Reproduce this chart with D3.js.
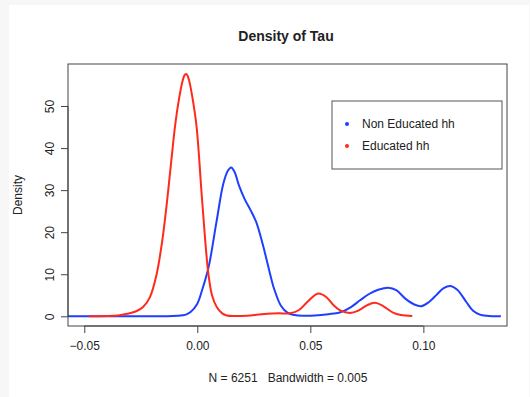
<!DOCTYPE html>
<html>
<head>
    <meta charset="utf-8" />
    <title>Density of Tau</title>
    <style>
    	html, body { margin: 0; padding: 0; background: #f7f7f7; }
    	svg { display: block; }
    	text { font-family: "Liberation Sans", Arial, Helvetica, sans-serif; fill: #222; }
    </style>
</head>
<body>
<script src="https://d3js.org/d3.v7.min.js"></script>
<script>
    // density curves
    var blueX = [-0.06, -0.03, -0.015, -0.009, -0.005, -0.003, 0.000, 0.002, 0.005, 0.0085, 0.0115, 0.0135, 0.015, 0.0165,
                 0.0185, 0.021, 0.0235, 0.026, 0.029, 0.032, 0.034, 0.037, 0.040, 0.043, 0.047, 0.052, 0.058, 0.063, 0.068,
                 0.072, 0.076, 0.080, 0.0845, 0.088, 0.092, 0.096, 0.099, 0.102, 0.106, 0.109, 0.112, 0.115, 0.119, 0.122,
                 0.125, 0.128, 0.131, 0.1343];
    var blueY = [0, 0, 0.02, 0.1, 0.4, 1.0, 3.0, 6.0, 11.7, 22.5, 31.5, 34.6, 35.4, 34.3,
                 31.0, 27.8, 25.3, 22.5, 17.0, 10.5, 6.5, 2.5, 0.8, 0.3, 0.15, 0.2, 0.5, 0.9, 2.2,
                 3.8, 5.3, 6.3, 6.8, 6.2, 4.2, 2.8, 2.4, 3.2, 5.2, 6.7, 7.2, 6.3, 3.4, 1.3,
                 0.4, 0.1, 0.02, 0];

    var redX = [-0.048, -0.04, -0.035, -0.031, -0.027, -0.024, -0.021, -0.018, -0.0155, -0.0135, -0.0115, -0.0099,
                -0.0083, -0.0065, -0.0057, -0.005, -0.0043, -0.0035, -0.002, -0.0003, 0.0019, 0.0035, 0.0049, 0.0065,
                0.0086, 0.011, 0.013, 0.016, 0.022, 0.027, 0.031, 0.036, 0.041, 0.045, 0.049, 0.0535, 0.057, 0.060,
                0.0632, 0.0676, 0.071, 0.075, 0.0786, 0.082, 0.0868, 0.090, 0.0951];
    var redY = [0, 0.05, 0.2, 0.6, 1.2, 2.2, 4.5, 10, 18, 26.8, 37, 45,
                51, 56, 57.3, 57.6, 57.2, 55.8, 51.5, 45, 29.2, 18, 10.1, 5,
                2.2, 0.7, 0.2, 0.05, 0.15, 0.4, 0.6, 0.7, 0.7, 1.5, 3.6, 5.4, 4.6, 2.8,
                1.4, 0.8, 1.3, 2.6, 3.2, 2.5, 0.8, 0.3, 0.05];

    var xTicks = [-0.05, 0, 0.05, 0.10];
    var yTicks = [0, 10, 20, 30, 40, 50];
    var seriesNames = ["Non Educated hh", "Educated hh"];
    var seriesColors = ["#1f3fff", "#ff2a1a"];

    var width = 530;
    var height = 397;
    var box = {"left": 68, "right": 507, "top": 64, "bottom": 326};

    var svg = d3.select("body").append("svg")
                .attr("width", width)
                .attr("height", height);

    svg.append("rect")
       .attr("x", 9)
       .attr("y", 5)
       .attr("width", width - 10)
       .attr("height", height - 5)
       .attr("fill", "#fff");

    var xScaler = d3.scaleLinear()
                    .domain([-0.0572, 0.137])
                    .range([box.left, box.right]);

    var yScaler = d3.scaleLinear()
                    .domain([-2.31, 59.99])
                    .range([box.bottom, box.top]);

    svg.append("clipPath").attr("id", "plotclip")
       .append("rect")
       .attr("x", box.left)
       .attr("y", box.top)
       .attr("width", box.right - box.left)
       .attr("height", box.bottom - box.top);

    var lineGenerator = d3.line()
                          .x(d => xScaler(d[0]))
                          .y(d => yScaler(d[1]))
                          .curve(d3.curveCatmullRom.alpha(0.5));

    var lines = svg.append("g").attr("clip-path", "url(#plotclip)");

    lines.append("path")
         .attr("d", lineGenerator(blueX.map((x, i) => [x, blueY[i]])))
         .style("fill", "none")
         .style("stroke-width", "2px")
         .style("stroke", seriesColors[0]);

    lines.append("path")
         .attr("d", lineGenerator(redX.map((x, i) => [x, redY[i]])))
         .style("fill", "none")
         .style("stroke-width", "2px")
         .style("stroke", seriesColors[1]);

    // plot frame
    svg.append("rect")
       .attr("x", box.left)
       .attr("y", box.top)
       .attr("width", box.right - box.left)
       .attr("height", box.bottom - box.top)
       .attr("fill", "none")
       .attr("stroke", "#444")
       .attr("stroke-width", 1);

    var xAxis = d3.axisBottom(xScaler)
                  .tickValues(xTicks)
                  .tickSize(7)
                  .tickPadding(8)
                  .tickFormat(d3.format(".2f"));

    var xg = svg.append("g")
                .attr("transform", "translate(0," + box.bottom + ")")
                .call(xAxis);
    xg.select(".domain")
      .attr("d", "M" + xScaler(xTicks[0]) + ",0H" + xScaler(xTicks[xTicks.length - 1]));

    var yAxis = d3.axisLeft(yScaler)
                  .tickValues(yTicks)
                  .tickSize(7);

    var yg = svg.append("g")
                .attr("transform", "translate(" + box.left + ",0)")
                .call(yAxis);
    yg.select(".domain")
      .attr("d", "M0," + yScaler(yTicks[0]) + "V" + yScaler(yTicks[yTicks.length - 1]));
    yg.selectAll(".tick text")
      .attr("x", 0)
      .attr("y", 0)
      .attr("dy", 0)
      .attr("transform", "translate(-14,0) rotate(-90)")
      .style("text-anchor", "middle");

    svg.selectAll(".domain, .tick line").attr("stroke", "#444");
    svg.selectAll(".tick text")
       .style("font-size", "12px")
       .style("font-family", "'Liberation Sans', Arial, sans-serif")
       .attr("fill", "#222");

    svg.append("text")
       .attr("x", 286)
       .attr("y", 41)
       .style("text-anchor", "middle")
       .style("font-size", "14px")
       .style("font-weight", "bold")
       .text("Density of Tau");

    svg.append("text")
       .attr("transform", "translate(22,195) rotate(-90)")
       .style("text-anchor", "middle")
       .style("font-size", "12px")
       .text("Density");

    svg.append("text")
       .attr("x", 288)
       .attr("y", 382)
       .style("text-anchor", "middle")
       .style("font-size", "12px")
       .attr("xml:space", "preserve")
       .style("white-space", "pre")
       .text("N = 6251   Bandwidth = 0.005");

    // legend
    var legend = svg.append("g");
    legend.append("rect")
          .attr("x", 332)
          .attr("y", 101)
          .attr("width", 170)
          .attr("height", 68)
          .attr("fill", "#fff")
          .attr("stroke", "#555")
          .attr("stroke-width", 1);

    legend.selectAll("circle")
          .data(seriesNames)
          .enter().append("circle")
          .attr("cx", 347)
          .attr("cy", (d, i) => 124 + i * 22)
          .attr("r", 2)
          .attr("fill", (d, i) => seriesColors[i]);

    legend.selectAll("text")
          .data(seriesNames)
          .enter().append("text")
          .attr("x", 362)
          .attr("y", (d, i) => 128 + i * 22)
          .style("font-size", "12px")
          .text(d => d);
</script>
</body>
</html>
